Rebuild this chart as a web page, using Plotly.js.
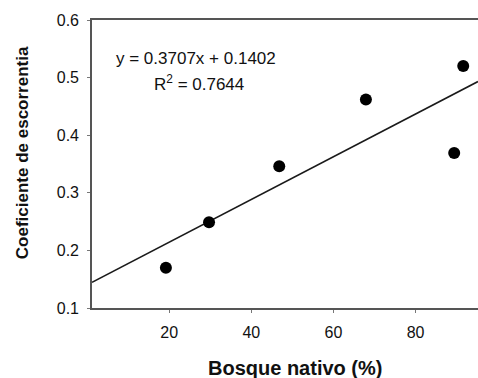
<!DOCTYPE html>
<html>
<head>
<meta charset="utf-8">
<script src="https://cdn.plot.ly/plotly-3.0.1.min.js"></script>
<style>
  html, body { margin: 0; padding: 0; background: #fff; }
  #chart { width: 478px; height: 378px; }
</style>
</head>
<body>
<div id="chart"></div>
<script>
// Native forest cover (%) and runoff coefficient per catchment
const bosqueNativo = [19.2, 29.7, 46.8, 67.9, 89.4, 91.6];
const coefEscorrentia = [0.170, 0.249, 0.346, 0.462, 0.369, 0.520];

// Fitted linear regression (x expressed as a fraction of cover)
const slope = 0.3707;
const intercept = 0.1402;
const r2 = 0.7644;

const xRange = [1.2, 95.2];
const yRange = [0.1, 0.6];
const xTicks = [20, 40, 60, 80];
const yTicks = [0.1, 0.2, 0.3, 0.4, 0.5, 0.6];

const fitX = [xRange[0], xRange[1]];
const fitY = fitX.map(v => intercept + slope * v / 100);

const font = 'Arial, "Liberation Sans", sans-serif';

const traces = [
  {
    x: fitX, y: fitY, type: 'scatter', mode: 'lines',
    line: { color: '#1a1a1a', width: 1.6 },
    hoverinfo: 'skip', cliponaxis: true
  },
  {
    x: bosqueNativo, y: coefEscorrentia, type: 'scatter', mode: 'markers',
    marker: { color: '#000', size: 12 },
    cliponaxis: false
  }
];

const layout = {
  width: 478, height: 378,
  margin: { l: 92, r: 0, t: 20, b: 70 },
  paper_bgcolor: '#fff', plot_bgcolor: '#fff',
  showlegend: false,
  font: { family: font, color: '#111' },
  xaxis: {
    range: xRange, tickvals: xTicks, ticktext: xTicks.map(String),
    showgrid: false, zeroline: false,
    showline: true, mirror: true, linecolor: '#555', linewidth: 1.8,
    ticks: 'outside', ticklen: 3, tickwidth: 1, tickcolor: '#777',
    ticklabelstandoff: 6,
    tickfont: { size: 16, family: font, color: '#111' }
  },
  yaxis: {
    range: yRange, tickvals: yTicks, ticktext: yTicks.map(v => v.toFixed(1)),
    showgrid: false, zeroline: false,
    showline: true, linecolor: '#555', linewidth: 1.8,
    ticks: 'outside', ticklen: 3, tickwidth: 1, tickcolor: '#777',
    ticklabelstandoff: 5,
    tickfont: { size: 16, family: font, color: '#111' }
  },
  annotations: [
    {
      text: 'Coeficiente de escorrentia', textangle: -90,
      xref: 'paper', yref: 'paper', x: -0.181, y: 0.538,
      xanchor: 'center', yanchor: 'middle', showarrow: false,
      font: { size: 17, family: font, color: '#111', weight: 'bold' }
    },
    {
      text: 'Bosque nativo (%)',
      xref: 'paper', yref: 'paper', x: 0.526, y: -0.208,
      xanchor: 'center', yanchor: 'middle', showarrow: false,
      font: { size: 20, family: font, color: '#111', weight: 'bold' }
    },
    {
      text: 'y = ' + slope + 'x + ' + intercept,
      xref: 'paper', yref: 'paper', x: 0.269, y: 0.868,
      xanchor: 'center', yanchor: 'middle', showarrow: false,
      font: { size: 17, family: font, color: '#111' }
    },
    {
      text: 'R<sup>2</sup> = ' + r2,
      xref: 'paper', yref: 'paper', x: 0.277, y: 0.781,
      xanchor: 'center', yanchor: 'middle', showarrow: false,
      font: { size: 17, family: font, color: '#111' }
    }
  ]
};

Plotly.newPlot('chart', traces, layout, { staticPlot: true, displayModeBar: false });
</script>
</body>
</html>
